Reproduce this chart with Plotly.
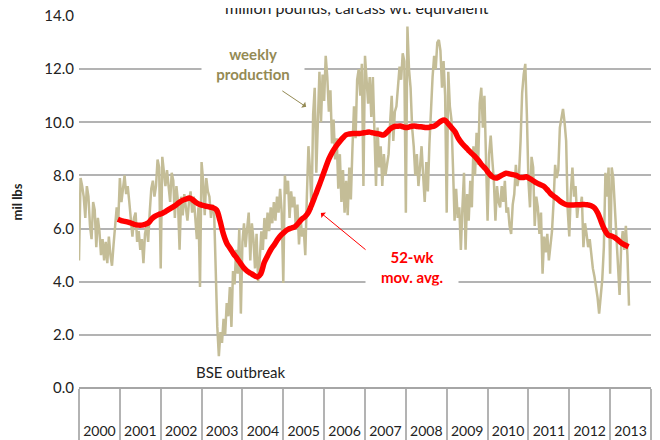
import numpy as np
import plotly.graph_objects as go

years = list(range(2000, 2014))
year_labels = [str(y) for y in years]

# Weekly production (mil lbs), sampled every two weeks, by year
w2000 = [4.8, 7.9, 7.6, 7.2, 6.4, 7.6, 7.2, 6.1, 5.6, 7.0, 6.7, 5.3, 6.4, 5.9, 5.0, 5.6, 4.8, 5.5, 4.7, 5.7, 5.0, 4.6, 5.4, 6.2, 6.8, 6.3]
w2001 = [7.9, 7.0, 7.6, 8.0, 7.3, 7.6, 7.0, 6.2, 5.7, 6.4, 6.6, 5.5, 5.9, 5.2, 5.6, 4.7, 5.8, 6.1, 5.5, 6.6, 7.5, 7.8, 7.2, 7.6, 8.6, 8.3]
w2002 = [4.5, 8.7, 8.0, 7.6, 8.2, 7.5, 7.0, 8.1, 7.8, 6.4, 7.6, 7.0, 5.2, 7.2, 6.5, 7.3, 6.8, 6.3, 7.0, 7.4, 6.6, 7.2, 6.4, 5.6, 6.8, 3.8]
w2003 = [8.5, 7.8, 6.5, 7.9, 7.4, 7.2, 6.4, 6.9, 6.6, 4.3, 2.3, 1.2, 2.1, 1.7, 2.6, 2.0, 3.2, 2.7, 3.8, 2.3, 4.4, 3.9, 5.2, 4.3, 6.0, 2.8]
w2004 = [5.5, 6.2, 5.3, 6.0, 6.6, 4.8, 6.2, 5.6, 4.5, 5.8, 4.0, 4.8, 5.9, 5.2, 6.4, 5.6, 6.6, 5.9, 6.8, 6.2, 7.0, 6.3, 7.2, 6.6, 7.5, 6.6]
w2005 = [3.95, 8.0, 7.3, 7.8, 6.4, 7.4, 6.8, 7.2, 6.0, 6.9, 5.4, 6.4, 5.7, 6.0, 5.0, 7.2, 9.1, 8.2, 6.7, 10.3, 11.3, 8.1, 10.2, 11.9, 10.0, 11.8]
w2006 = [10.8, 12.5, 11.7, 10.4, 11.2, 9.2, 10.1, 8.6, 9.4, 7.5, 8.8, 7.0, 8.2, 6.6, 7.8, 6.5, 8.3, 7.1, 9.0, 10.6, 9.4, 11.6, 12.0, 11.0, 12.2, 7.6]
w2007 = [12.5, 11.4, 10.7, 11.7, 10.2, 11.7, 9.5, 7.6, 9.8, 8.3, 9.1, 7.6, 8.8, 8.0, 8.4, 8.8, 10.0, 11.0, 9.3, 10.4, 10.6, 11.4, 12.1, 11.6, 12.6, 12.3]
w2008 = [6.6, 13.6, 12.0, 11.3, 9.8, 9.1, 8.0, 8.8, 7.6, 8.3, 9.1, 8.0, 7.0, 8.5, 7.4, 9.2, 10.6, 11.7, 12.5, 12.0, 13.0, 13.1, 12.7, 11.3, 12.3, 11.0]
w2009 = [6.6, 11.9, 10.6, 10.1, 8.3, 6.3, 7.5, 6.4, 6.8, 5.2, 6.8, 8.1, 5.2, 7.3, 6.3, 7.8, 6.8, 9.1, 8.0, 9.6, 8.4, 10.7, 11.3, 9.8, 11.0, 9.0]
w2010 = [6.3, 8.8, 9.5, 8.6, 7.8, 6.3, 7.6, 7.0, 6.8, 7.6, 7.0, 7.8, 6.6, 6.8, 6.1, 5.8, 6.9, 7.3, 8.4, 7.6, 8.0, 9.3, 11.1, 11.8, 12.2, 10.3]
w2011 = [7.8, 6.8, 8.7, 8.3, 6.1, 7.2, 6.8, 5.8, 6.6, 4.3, 5.7, 5.1, 5.8, 4.8, 5.3, 5.9, 7.0, 8.4, 7.9, 8.2, 9.8, 10.1, 10.5, 10.0, 9.3, 6.7]
w2012 = [5.7, 7.4, 8.3, 7.2, 7.6, 6.4, 7.0, 6.8, 7.2, 5.3, 6.2, 5.8, 5.3, 5.6, 4.9, 4.5, 4.2, 3.8, 3.4, 2.8, 3.6, 4.1, 5.3, 8.1, 7.2, 8.3]
w2013 = [4.3, 8.3, 7.9, 6.8, 6.2, 5.0, 3.5, 5.3, 5.9, 5.2, 6.1, 5.0, 3.1]

weekly = (w2000 + w2001 + w2002 + w2003 + w2004 + w2005 + w2006 + w2007
          + w2008 + w2009 + w2010 + w2011 + w2012 + w2013)
weekly_x = years[0] + np.arange(len(weekly)) / 26.0

# 52-week moving average, monthly samples starting late 2000
ma_start = 2000.95
mov_avg = [6.35, 6.30, 6.27, 6.24, 6.20, 6.15, 6.13, 6.13, 6.16, 6.22, 6.37, 6.47,
           6.53, 6.57, 6.64, 6.72, 6.80, 6.88, 6.98, 7.06, 7.11, 7.15, 7.08, 6.98,
           6.91, 6.87, 6.84, 6.81, 6.78, 6.70, 6.30, 5.80, 5.45, 5.25, 5.05, 4.88,
           4.70, 4.52, 4.40, 4.32, 4.24, 4.18, 4.30, 4.72, 4.98, 5.22, 5.40, 5.60,
           5.76, 5.88, 5.97, 6.02, 6.07, 6.20, 6.35, 6.45, 6.62, 6.92, 7.25, 7.58,
           7.93, 8.28, 8.62, 8.88, 9.08, 9.25, 9.40, 9.53, 9.56, 9.58, 9.58, 9.58,
           9.60, 9.62, 9.63, 9.60, 9.58, 9.55, 9.52, 9.62, 9.75, 9.83, 9.85, 9.86,
           9.82, 9.80, 9.84, 9.86, 9.84, 9.83, 9.81, 9.80, 9.83, 9.86, 9.95, 10.05,
           10.08, 9.95, 9.80, 9.65, 9.40, 9.22, 9.08, 8.95, 8.82, 8.70, 8.55, 8.38,
           8.25, 8.08, 7.95, 7.90, 7.95, 8.02, 8.08, 8.06, 8.03, 8.00, 7.93, 7.92,
           7.95, 7.88, 7.80, 7.72, 7.66, 7.60, 7.48, 7.33, 7.22, 7.13, 7.02, 6.94,
           6.89, 6.89, 6.89, 6.90, 6.90, 6.91, 6.89, 6.86, 6.78, 6.58, 6.25, 5.95,
           5.76, 5.72, 5.66, 5.56, 5.45, 5.38, 5.32]
ma_x = ma_start + np.arange(len(mov_avg)) / 12.0

FONT = "Lato, Carlito, Calibri, sans-serif"
TAN = "#C4BD97"
OLIVE = "#948A54"
RED = "#FF0000"
GRID = "#B3B3B3"

fig = go.Figure()
fig.add_trace(go.Scatter(x=weekly_x, y=weekly, mode="lines",
                         line=dict(color=TAN, width=2.5), showlegend=False,
                         hoverinfo="skip"))
fig.add_trace(go.Scatter(x=ma_x, y=mov_avg, mode="lines",
                         line=dict(color=RED, width=5.5, shape="spline"),
                         showlegend=False, hoverinfo="skip"))

mid = [y + 0.5 for y in years]
bounds = years + [years[-1] + 1]

fig.update_layout(
    width=660, height=440,
    margin=dict(l=71, r=17, t=8, b=60, autoexpand=False),
    paper_bgcolor="white", plot_bgcolor="white",
    font=dict(family=FONT, size=15, color="#222222"),
    xaxis=dict(range=[years[0], years[-1] + 1], tickvals=mid, ticktext=year_labels,
               ticks="", showgrid=False, zeroline=False, automargin=False,
               showline=False, tickfont=dict(size=14, color="#222222"),
               ticklabelstandoff=33, ticklabeloverflow="allow",
               minor=dict(tickvals=bounds, ticks="outside", ticklen=60,
                          tickwidth=1.5, tickcolor=GRID, showgrid=False)),
    yaxis=dict(range=[0, 14], dtick=2, tickformat=".1f", showgrid=True, automargin=False,
               gridcolor=GRID, gridwidth=1.5, zeroline=True, zerolinecolor="#A6A6A6",
               zerolinewidth=2, ticks="", ticklabelstandoff=4,
               ticklabeloverflow="allow",
               tickfont=dict(size=15, color="#222222"),
               title=dict(text="<b>mil lbs</b>", font=dict(size=13, color="#222222"),
                          standoff=18)),
)

# chart title
fig.add_annotation(text="million pounds, carcass wt. equivalent", xref="paper", yref="paper",
                   x=0.486, y=1, yanchor="bottom", yshift=-3, showarrow=False,
                   font=dict(size=16, color="#222222"))

# weekly production label
fig.add_annotation(text="<b>weekly<br>production</b>", x=2004.26, y=12.21,
                   xref="x", yref="y", showarrow=False, bgcolor="white", width=100,
                   font=dict(size=15, color=OLIVE))
fig.add_annotation(x=2005.56, y=10.58, ax=2004.94, ay=11.22, xref="x", yref="y",
                   axref="x", ayref="y", showarrow=True, arrowhead=1, arrowsize=1.2,
                   arrowwidth=1, arrowcolor=OLIVE, text="")

# moving average label
fig.add_annotation(text="<b>52-wk<br>mov. avg.</b>", x=2008.15, y=4.55,
                   xref="x", yref="y", showarrow=False, bgcolor="white", width=90,
                   font=dict(size=15, color=RED))
fig.add_annotation(x=2005.92, y=6.59, ax=2007.05, ay=5.16, xref="x", yref="y",
                   axref="x", ayref="y", showarrow=True, arrowhead=1, arrowsize=1.2,
                   arrowwidth=1, arrowcolor=RED, text="")

fig.add_annotation(text="BSE outbreak", x=2003.97, y=0.61, xref="x", yref="y",
                   showarrow=False, font=dict(size=15, color="#222222"))

fig.write_html("out.html")
